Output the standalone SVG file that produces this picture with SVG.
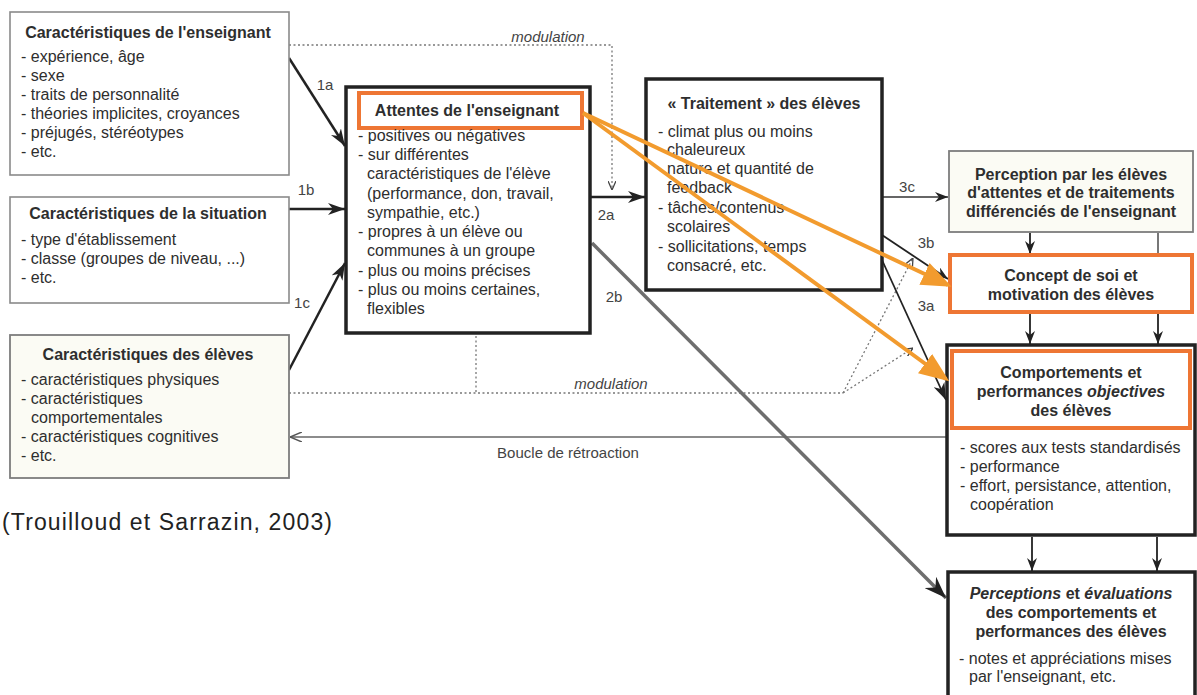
<svg xmlns="http://www.w3.org/2000/svg" width="1197" height="695" viewBox="0 0 1197 695">
<style>
.t{font-family:"Liberation Sans",Arial,Helvetica,sans-serif;font-size:16px;fill:#2e2e2e}
.b{font-weight:bold}
.m{text-anchor:middle}
.i{font-style:italic}
.lbl{font-family:"Liberation Sans",Arial,Helvetica,sans-serif;font-size:15px;fill:#444}
.thin{fill:#fff;stroke:#8a8a8a;stroke-width:1.6}
.cream{fill:#fbfbf4;stroke:#7d7d7d;stroke-width:1.8}
.thick{fill:#fff;stroke:#222;stroke-width:3.5}
.orange{fill:#fff;stroke:#EE7634;stroke-width:4}
.ln{fill:none;stroke:#222;stroke-width:2.5}
.ln2{fill:none;stroke:#222;stroke-width:1.8}
.ln3{fill:none;stroke:#333;stroke-width:1.4}
.dot{fill:none;stroke:#777;stroke-width:1.3;stroke-dasharray:2 2.5}
.or{fill:none;stroke:#F29B2E;stroke-width:4}
</style>
<defs>
<marker id="ah" viewBox="0 0 17 12" refX="17" refY="6" markerWidth="17" markerHeight="12" markerUnits="userSpaceOnUse" orient="auto"><path d="M0,0 L17,6 L0,12 L5,6 z" fill="#222"/></marker>
<marker id="ahs" viewBox="0 0 13 10" refX="13" refY="5" markerWidth="13" markerHeight="10" markerUnits="userSpaceOnUse" orient="auto"><path d="M0,0 L13,5 L0,10 L4,5 z" fill="#222"/></marker>
<marker id="ahb" viewBox="0 0 22 16" refX="22" refY="8" markerWidth="22" markerHeight="16" markerUnits="userSpaceOnUse" orient="auto"><path d="M0,0 L22,8 L0,16 L7,8 z" fill="#222"/></marker>
<marker id="aho" viewBox="0 0 30 24" refX="26" refY="12" markerWidth="30" markerHeight="24" markerUnits="userSpaceOnUse" orient="auto"><path d="M0,0 L30,12 L0,24 z" fill="#F29B2E"/></marker>
<marker id="ahd" viewBox="0 0 9 8" refX="9" refY="4" markerWidth="9" markerHeight="8" markerUnits="userSpaceOnUse" orient="auto"><path d="M0,0 L9,4 L0,8" fill="none" stroke="#444" stroke-width="1.3"/></marker>
<marker id="ahf" viewBox="0 0 12 10" refX="12" refY="5" markerWidth="12" markerHeight="10" markerUnits="userSpaceOnUse" orient="auto"><path d="M0,0 L12,5 L0,10" fill="none" stroke="#555" stroke-width="1.5"/></marker>
</defs>
<rect width="1197" height="695" fill="#fff"/>

<g id="connectors">
  <path class="dot" d="M289,45 H612 V190" marker-end="url(#ahd)"/>
  <path class="dot" d="M289,393 H843"/>
  <path class="dot" d="M476,336 V393"/>
  <path class="dot" d="M843,393 L913,258" marker-end="url(#ahd)"/>
  <path class="dot" d="M843,393 L913,348" marker-end="url(#ahd)"/>
  <path class="ln" d="M289,58 L345,146" marker-end="url(#ah)"/>
  <path class="ln" d="M289,209 L345,209" marker-end="url(#ah)"/>
  <path class="ln" d="M289,370 L345,263" marker-end="url(#ah)"/>
  <path class="ln" d="M590,197 L645,197" marker-end="url(#ah)"/>
  <path d="M592,243 L946,598" fill="none" stroke="#6e6e6e" stroke-width="3.5" marker-end="url(#ahb)"/>
  <path class="ln3" d="M882,197 L948,197" marker-end="url(#ahs)"/>
  <path class="ln2" d="M882,235 L948,279" marker-end="url(#ahs)"/>
  <path class="ln2" d="M882,260 L946,400" marker-end="url(#ah)"/>
  <path d="M947,437 L290,437" fill="none" stroke="#666" stroke-width="1.5" marker-end="url(#ahf)"/>
  <path class="ln2" d="M1030,233 V254" marker-end="url(#ahs)"/>
  <path d="M1158,233 V254" fill="none" stroke="#777" stroke-width="2"/>
  <path class="ln2" d="M1030,313 V344" marker-end="url(#ahs)"/>
  <path class="ln2" d="M1158,313 V344" marker-end="url(#ahs)"/>
  <path class="ln2" d="M1032,537 V571" marker-end="url(#ahs)"/>
  <path class="ln2" d="M1157,537 V571" marker-end="url(#ahs)"/>
  <text class="lbl i m" x="548" y="42" font-size="16">modulation</text>
  <text class="lbl i m" x="611" y="389" font-size="16">modulation</text>
  <text class="lbl m" x="568" y="458" font-size="16">Boucle de rétroaction</text>
  <text class="lbl m" x="325" y="90">1a</text>
  <text class="lbl m" x="306" y="195">1b</text>
  <text class="lbl m" x="302" y="308">1c</text>
  <text class="lbl m" x="606" y="220">2a</text>
  <text class="lbl m" x="614" y="302">2b</text>
  <text class="lbl m" x="907" y="192">3c</text>
  <text class="lbl m" x="926" y="248">3b</text>
  <text class="lbl m" x="926" y="311">3a</text>
</g>

<g id="n1">
  <rect class="thin" x="10" y="12" width="279" height="163"/>
  <text class="t b m" x="148" y="38">Caractéristiques de l'enseignant</text>
  <text class="t" x="21" y="62">- expérience, âge</text>
  <text class="t" x="21" y="81">- sexe</text>
  <text class="t" x="21" y="100">- traits de personnalité</text>
  <text class="t" x="21" y="119">- théories implicites, croyances</text>
  <text class="t" x="21" y="138">- préjugés, stéréotypes</text>
  <text class="t" x="21" y="157">- etc.</text>
</g>

<g id="n2">
  <rect class="thin" x="10" y="197" width="279" height="106"/>
  <text class="t b m" x="148" y="219">Caractéristiques de la situation</text>
  <text class="t" x="21" y="245">- type d'établissement</text>
  <text class="t" x="21" y="264">- classe (groupes de niveau, ...)</text>
  <text class="t" x="21" y="283">- etc.</text>
</g>

<g id="n3">
  <rect class="cream" x="10" y="335" width="279" height="143"/>
  <text class="t b m" x="148" y="360">Caractéristiques des élèves</text>
  <text class="t" x="21" y="385">- caractéristiques physiques</text>
  <text class="t" x="21" y="404">- caractéristiques</text>
  <text class="t" x="31" y="423">comportementales</text>
  <text class="t" x="21" y="442">- caractéristiques cognitives</text>
  <text class="t" x="21" y="461">- etc.</text>
</g>

<g id="n4">
  <rect class="thick" x="346" y="87" width="244" height="246"/>
  <rect class="orange" x="359" y="93" width="223" height="35" stroke-width="3.5"/>
  <text class="t b m" x="467" y="116">Attentes de l'enseignant</text>
  <text class="t" x="358" y="141">- positives ou négatives</text>
  <text class="t" x="358" y="160">- sur différentes</text>
  <text class="t" x="367" y="179">caractéristiques de l'élève</text>
  <text class="t" x="367" y="199">(performance, don, travail,</text>
  <text class="t" x="367" y="218">sympathie, etc.)</text>
  <text class="t" x="358" y="237">- propres à un élève ou</text>
  <text class="t" x="367" y="256">communes à un groupe</text>
  <text class="t" x="358" y="276">- plus ou moins précises</text>
  <text class="t" x="358" y="295">- plus ou moins certaines,</text>
  <text class="t" x="367" y="314">flexibles</text>
</g>

<g id="n5">
  <rect class="thick" x="646" y="79" width="236" height="211"/>
  <text class="t b m" x="764" y="109">« Traitement » des élèves</text>
  <text class="t" x="658" y="137">- climat plus ou moins</text>
  <text class="t" x="667" y="155">chaleureux</text>
  <text class="t" x="667" y="174">nature et quantité de</text>
  <text class="t" x="667" y="193">feedback</text>
  <text class="t" x="658" y="213">- tâches/contenus</text>
  <text class="t" x="667" y="232">scolaires</text>
  <text class="t" x="658" y="252">- sollicitations, temps</text>
  <text class="t" x="667" y="271">consacré, etc.</text>
</g>

<g id="n6">
  <rect class="cream" x="949" y="151" width="244" height="81" stroke-width="2"/>
  <text class="t b m" x="1071" y="180">Perception par les élèves</text>
  <text class="t b m" x="1071" y="198">d'attentes et de traitements</text>
  <text class="t b m" x="1071" y="217">différenciés de l'enseignant</text>
</g>

<g id="n7">
  <rect class="orange" x="950" y="255" width="242" height="57"/>
  <text class="t b m" x="1071" y="281">Concept de soi et</text>
  <text class="t b m" x="1071" y="300">motivation des élèves</text>
</g>

<g id="n8">
  <rect class="thick" x="947" y="345" width="248" height="190"/>
  <rect class="orange" x="952" y="351" width="238" height="77"/>
  <text class="t b m" x="1071" y="378">Comportements et</text>
  <text class="t b m" x="1071" y="397">performances <tspan class="i">objectives</tspan></text>
  <text class="t b m" x="1071" y="416">des élèves</text>
  <text class="t" x="960" y="453">- scores aux tests standardisés</text>
  <text class="t" x="960" y="472">- performance</text>
  <text class="t" x="960" y="491">- effort, persistance, attention,</text>
  <text class="t" x="970" y="510">coopération</text>
</g>

<g id="n9">
  <rect class="thick" x="948" y="572" width="247" height="140"/>
  <text class="t b m" x="1071" y="599"><tspan class="i">Perceptions</tspan> et <tspan class="i">évaluations</tspan></text>
  <text class="t b m" x="1071" y="618">des comportements et</text>
  <text class="t b m" x="1071" y="637">performances des élèves</text>
  <text class="t" x="959" y="664">- notes et appréciations mises</text>
  <text class="t" x="969" y="682">par l'enseignant, etc.</text>
</g>

<g id="orange-arrows">
  <path class="or" d="M583,113 L948,285" marker-end="url(#aho)"/>
  <path class="or" d="M583,113 L946,379" marker-end="url(#aho)"/>
</g>

<text x="2" y="530" font-family="&quot;Liberation Sans&quot;,Arial,Helvetica,sans-serif" font-size="23" fill="#222" textLength="330" lengthAdjust="spacing">(Trouilloud et Sarrazin, 2003)</text>
</svg>
